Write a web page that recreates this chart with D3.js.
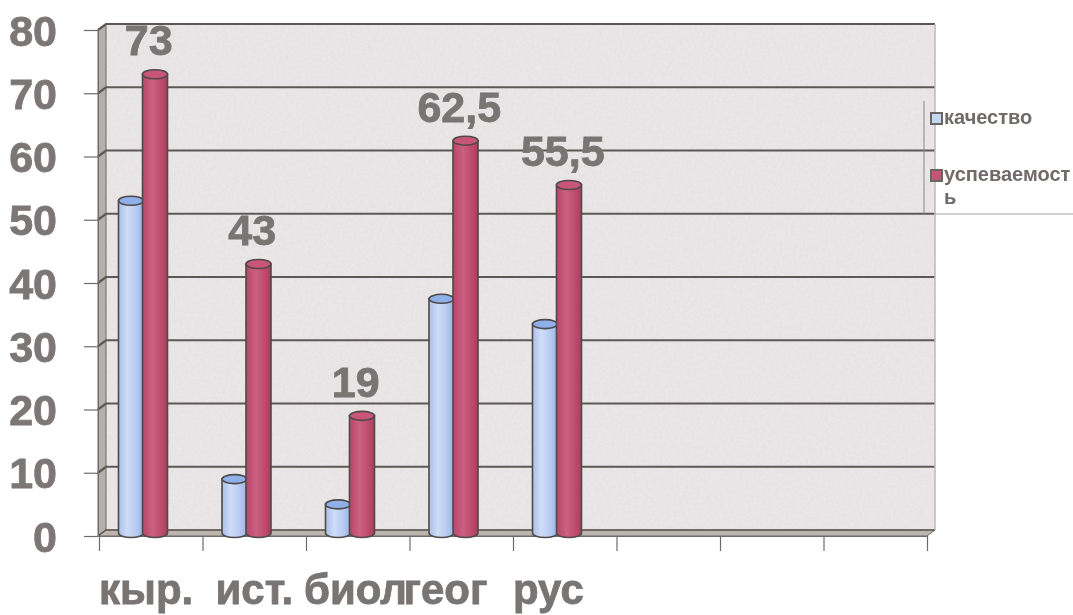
<!DOCTYPE html>
<html><head><meta charset="utf-8">
<script src="https://cdn.jsdelivr.net/npm/d3@7"></script>
<style>html,body{margin:0;padding:0;background:#fff}svg{display:block}text{font-family:"Liberation Sans",Arial,sans-serif;font-weight:bold}</style>
</head><body>
<svg id="c" width="1073" height="615"></svg>
<script>
const categories = ["кыр.", "ист.", "биол", "геог", "рус", "", "", ""];
const kachestvo = [53, 9, 5, 37.5, 33.5];
const uspevaemost = [73, 43, 19, 62.5, 55.5];
const redLabels = ["73", "43", "19", "62,5", "55,5"];
const seriesNames = ["качество", "успеваемост"];
const yTicks = [0, 10, 20, 30, 40, 50, 60, 70, 80];

const svg = d3.select("#c");
const W = {l: 98, r: 927, top: 30, bot: 536, dx: 8, dy: -6};
const y = d3.scaleLinear().domain([0, 80]).range([W.bot, W.top]);
const x = d3.scaleBand().domain(categories.map((d, i) => i)).range([W.l + 1, W.r]);
const x1 = d3.scaleBand().domain([0, 1]).range([19.5, 67.5]);
const xEdge = d3.scaleLinear().domain([0, categories.length]).range([W.l + 1, W.r]);
const ink = "#6f6a68";

const defs = svg.append("defs");
const blur = defs.append("filter").attr("id", "scan").attr("x", "-2%").attr("y", "-2%").attr("width", "104%").attr("height", "104%");
blur.append("feGaussianBlur").attr("stdDeviation", 0.7);
const paper = defs.append("filter").attr("id", "paper").attr("x", 0).attr("y", 0).attr("width", "100%").attr("height", "100%");
paper.append("feTurbulence").attr("type", "fractalNoise").attr("baseFrequency", 0.35).attr("numOctaves", 2).attr("seed", 4).attr("result", "n");
paper.append("feColorMatrix").attr("in", "n").attr("type", "matrix").attr("values", "0 0 0 0 0.6  0 0 0 0 0.55  0 0 0 0 0.55  0 0 0 0.3 -0.08").attr("result", "g");
paper.append("feComposite").attr("in", "g").attr("in2", "SourceAlpha").attr("operator", "in").attr("result", "t");
paper.append("feMerge").selectAll("feMergeNode").data(["SourceGraphic", "t"]).join("feMergeNode").attr("in", d => d);

function grad(id, stops) {
  const g = defs.append("linearGradient").attr("id", id);
  stops.forEach(s => g.append("stop").attr("offset", s[0]).attr("stop-color", s[1]));
}
grad("gBlue", [[0, "#a9c0ea"], [0.35, "#cfdcf6"], [0.7, "#b8ccf2"], [1, "#9ab2e2"]]);
grad("gRed", [[0, "#b9466a"], [0.4, "#cb6080"], [0.75, "#bd4c6e"], [1, "#a83d5c"]]);

const root = svg.append("g").attr("filter", "url(#scan)");

// wall, side and floor
const backY = v => y(v) + W.dy;
root.append("rect").attr("x", W.l + W.dx).attr("y", backY(80)).attr("width", W.r - W.l).attr("height", backY(0) - backY(80))
  .attr("fill", "#ebe7e8").attr("filter", "url(#paper)");
root.append("path").attr("d", `M${W.l},${y(80)}L${W.l + W.dx},${backY(80)}L${W.l + W.dx},${backY(0)}L${W.l},${y(0)}Z`)
  .attr("fill", "#b4b0ae").attr("stroke", ink).attr("stroke-width", 1);
root.append("path").attr("d", `M${W.l},${y(0)}L${W.l + W.dx},${backY(0)}L${W.r + W.dx},${backY(0)}L${W.r},${y(0)}Z`)
  .attr("fill", "#bcb6ae").attr("stroke", ink).attr("stroke-width", 1);

// gridlines
root.append("g").selectAll("path").data(yTicks).join("path")
  .attr("d", d => `M${W.l},${y(d)}L${W.l + W.dx},${backY(d)}L${W.r + W.dx},${backY(d)}`)
  .attr("fill", "none").attr("stroke", "#5f5854").attr("stroke-width", d => d === 0 ? 1.5 : 2.2);
root.append("line").attr("x1", W.r + W.dx).attr("x2", W.r + W.dx).attr("y1", backY(80)).attr("y2", backY(0)).attr("stroke", "#bcb8b6").attr("stroke-width", 1.5);

// y axis
const yAxis = root.append("g").attr("transform", `translate(${W.l},0)`)
  .call(d3.axisLeft(y).tickValues(yTicks).tickSize(14).tickPadding(27));
yAxis.select(".domain").attr("stroke", ink);
yAxis.selectAll(".tick line").attr("stroke", ink).attr("stroke-width", 1.2);
yAxis.selectAll("text").attr("fill", "#7b7775").attr("stroke", "#7b7775").attr("stroke-width", 0.8).style("font-size", "43px").attr("dy", "0.35em");

// x axis
const xAxis = root.append("g").attr("transform", `translate(0,${W.bot})`)
  .call(d3.axisBottom(xEdge).tickValues(d3.range(categories.length + 1)).tickSize(15).tickFormat(""));
xAxis.select(".domain").attr("stroke", ink);
xAxis.selectAll(".tick line").attr("stroke", ink).attr("stroke-width", 1.2);

// cylinders
const rx = x1.bandwidth() / 2 + 0.5, ry = 4.5;
function cylinders(values, s, fill, top, cap) {
  const g = root.append("g").selectAll("g").data(values).join("g")
    .attr("transform", (d, i) => `translate(${x(i) + x1(s)},0)`);
  g.append("path")
    .attr("d", d => `M0,${y(d)}L0,${W.bot - 3}A${rx},${ry} 0 0 0 ${2 * rx},${W.bot - 3}L${2 * rx},${y(d)}Z`)
    .attr("fill", fill).attr("stroke", "#4f4a48").attr("stroke-width", 1.6);
  g.append("ellipse").attr("cx", rx).attr("cy", d => y(d)).attr("rx", rx).attr("ry", ry)
    .attr("fill", cap).attr("stroke", top).attr("stroke-width", 1.6);
}
cylinders(kachestvo, 0, "url(#gBlue)", "#4f4a48", "#8fb0e8");
cylinders(uspevaemost, 1, "url(#gRed)", "#4f4a48", "#c9577a");

// data labels
root.append("g").selectAll("text").data(redLabels).join("text")
  .attr("x", (d, i) => x(i) + x.bandwidth() / 2 - 2)
  .attr("y", (d, i) => y(uspevaemost[i]) - 19)
  .attr("text-anchor", "middle").attr("fill", "#787472").attr("stroke", "#787472").attr("stroke-width", 0.8).style("font-size", "43px").text(d => d);

// category labels
const catStart = [0, 13, -2, -6, 0];
root.append("g").selectAll("text").data(categories.filter(d => d)).join("text")
  .attr("x", (d, i) => x(i) + catStart[i])
  .attr("y", 604).attr("fill", "#787472").attr("stroke", "#787472").attr("stroke-width", 0.8).style("font-size", "42px").text(d => d);

// legend
const leg = root.append("g");
leg.append("line").attr("x1", 924).attr("x2", 924).attr("y1", 101).attr("y2", 214).attr("stroke", "#8a8684").attr("stroke-width", 1);
leg.append("line").attr("x1", W.r + W.dx).attr("x2", 1073).attr("y1", 214).attr("y2", 214).attr("stroke", "#a8a4a2").attr("stroke-width", 1);
const items = leg.selectAll("g").data(seriesNames).join("g")
  .attr("transform", (d, i) => `translate(931,${[118, 175][i]})`);
items.append("rect").attr("x", 0).attr("y", -5).attr("width", 11).attr("height", 11)
  .attr("fill", (d, i) => ["#c3d6f4", "#c4557a"][i]).attr("stroke", "#6a6664").attr("stroke-width", 2);
items.append("text").attr("x", 13).attr("y", 6).attr("fill", "#6f6b69").style("font-size", "20px").text(d => d);
leg.append("text").attr("x", 944).attr("y", 204).attr("fill", "#6f6b69").style("font-size", "20px").text("ь");
</script>
</body></html>
